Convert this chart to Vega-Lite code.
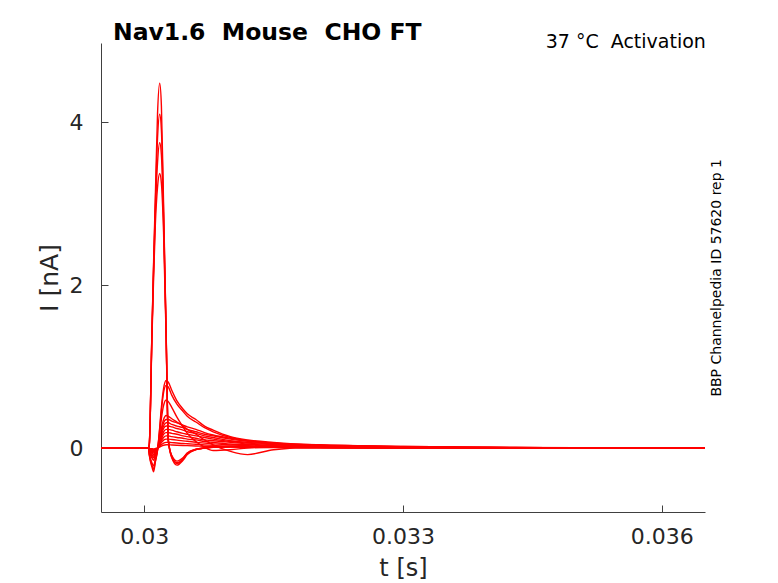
{
  "$schema": "https://vega.github.io/schema/vega-lite/v6.json",
  "width": 604,
  "height": 469,
  "autosize": {"type": "none"},
  "padding": {"left": 101, "top": 43, "right": 73, "bottom": 71},
  "background": "white",
  "config": {"font": "DejaVu Sans", "view": {"stroke": null}},
  "title": {
    "text": "Nav1.6\u00a0 Mouse\u00a0 CHO FT",
    "anchor": "start",
    "frame": "group",
    "dx": 12,
    "dy": 13,
    "offset": 2,
    "fontSize": 23.5,
    "fontWeight": "bold",
    "color": "#000000"
  },
  "data": {
    "values": [
      {"t": 0.0295, "a": 0, "b": 0, "c": 0, "d": 0, "m1": 0, "m2": 0, "m3": 0, "m4": 0, "m5": 0, "m6": 0, "m7": 0, "m8": 0, "m9": 0, "m10": 0, "m11": 0, "m12": 0, "m13": 0},
      {"t": 0.03, "a": 0, "b": 0, "c": 0, "d": 0, "m1": 0, "m2": 0, "m3": 0, "m4": 0, "m5": 0, "m6": 0, "m7": 0, "m8": 0, "m9": 0, "m10": 0, "m11": 0, "m12": 0, "m13": 0},
      {"t": 0.03005, "a": 0, "b": 0, "c": 0, "d": 0, "m1": 0, "m2": 0, "m3": 0, "m4": 0, "m5": 0, "m6": 0, "m7": 0, "m8": 0, "m9": 0, "m10": 0, "m11": 0, "m12": 0, "m13": 0},
      {"t": 0.03006, "a": 0.05, "b": 0.05, "c": 0.05, "d": 0.04, "m1": -0.09, "m2": -0.08, "m3": -0.07, "m4": -0.05, "m5": -0.04, "m6": -0.03, "m7": -0.02, "m8": -0.02, "m9": -0.015, "m10": -0.012, "m11": -0.01, "m12": -0.006, "m13": -0.003},
      {"t": 0.03009, "a": 1.41, "b": 1.41, "c": 1.38, "d": 1.33, "m1": -0.23, "m2": -0.21, "m3": -0.18, "m4": -0.12, "m5": -0.1, "m6": -0.08, "m7": -0.06, "m8": -0.05, "m9": -0.04, "m10": -0.03, "m11": -0.024, "m12": -0.016, "m13": -0.008},
      {"t": 0.03011, "a": 2.3, "b": 2.25, "c": 2.2, "d": 2.1, "m1": -0.29, "m2": -0.26, "m3": -0.22, "m4": -0.15, "m5": -0.12, "m6": -0.1, "m7": -0.08, "m8": -0.06, "m9": -0.05, "m10": -0.04, "m11": -0.03, "m12": -0.02, "m13": -0.01},
      {"t": 0.03013, "a": 3.1, "b": 3.0, "c": 2.9, "d": 2.75, "m1": -0.17, "m2": -0.16, "m3": -0.13, "m4": -0.09, "m5": -0.07, "m6": -0.06, "m7": -0.05, "m8": -0.04, "m9": -0.03, "m10": -0.024, "m11": -0.018, "m12": -0.012, "m13": -0.006},
      {"t": 0.030155, "a": 4.1, "b": 3.8, "c": 3.5, "d": 3.2, "m1": -0.03, "m2": -0.03, "m3": -0.02, "m4": -0.01, "m5": -0.01, "m6": -0.01, "m7": -0.01, "m8": 0, "m9": 0, "m10": 0, "m11": 0, "m12": 0, "m13": 0},
      {"t": 0.03018, "a": 4.48, "b": 4.1, "c": 3.75, "d": 3.37, "m1": 0.25, "m2": 0.23, "m3": 0.18, "m4": 0.12, "m5": 0.1, "m6": 0.09, "m7": 0.08, "m8": 0.07, "m9": 0.06, "m10": 0.045, "m11": 0.033, "m12": 0.021, "m13": 0.012},
      {"t": 0.0302, "a": 4.2, "b": 3.9, "c": 3.6, "d": 3.25, "m1": 0.5, "m2": 0.46, "m3": 0.36, "m4": 0.24, "m5": 0.21, "m6": 0.19, "m7": 0.16, "m8": 0.14, "m9": 0.11, "m10": 0.09, "m11": 0.066, "m12": 0.042, "m13": 0.024},
      {"t": 0.030225, "a": 3.0, "b": 2.9, "c": 2.8, "d": 2.65, "m1": 0.73, "m2": 0.68, "m3": 0.52, "m4": 0.35, "m5": 0.31, "m6": 0.27, "m7": 0.24, "m8": 0.2, "m9": 0.17, "m10": 0.13, "m11": 0.097, "m12": 0.062, "m13": 0.035},
      {"t": 0.030255, "a": 1.41, "b": 1.41, "c": 1.38, "d": 1.33, "m1": 0.83, "m2": 0.77, "m3": 0.59, "m4": 0.4, "m5": 0.35, "m6": 0.31, "m7": 0.27, "m8": 0.23, "m9": 0.19, "m10": 0.15, "m11": 0.11, "m12": 0.07, "m13": 0.04},
      {"t": 0.03028, "a": 0.1, "b": 0.1, "c": 0.1, "d": 0.08, "m1": 0.81, "m2": 0.75, "m3": 0.57, "m4": 0.39, "m5": 0.35, "m6": 0.31, "m7": 0.27, "m8": 0.23, "m9": 0.19, "m10": 0.15, "m11": 0.11, "m12": 0.07, "m13": 0.04},
      {"t": 0.03032, "a": -0.12, "b": -0.11, "c": -0.1, "d": -0.09, "m1": 0.71, "m2": 0.65, "m3": 0.5, "m4": 0.36, "m5": 0.33, "m6": 0.29, "m7": 0.26, "m8": 0.22, "m9": 0.18, "m10": 0.14, "m11": 0.105, "m12": 0.067, "m13": 0.038},
      {"t": 0.03038, "a": -0.21, "b": -0.19, "c": -0.18, "d": -0.16, "m1": 0.58, "m2": 0.54, "m3": 0.38, "m4": 0.32, "m5": 0.31, "m6": 0.27, "m7": 0.24, "m8": 0.2, "m9": 0.17, "m10": 0.13, "m11": 0.097, "m12": 0.062, "m13": 0.035},
      {"t": 0.03045, "a": -0.15, "b": -0.14, "c": -0.13, "d": -0.12, "m1": 0.48, "m2": 0.45, "m3": 0.26, "m4": 0.27, "m5": 0.28, "m6": 0.25, "m7": 0.22, "m8": 0.18, "m9": 0.15, "m10": 0.12, "m11": 0.088, "m12": 0.056, "m13": 0.032},
      {"t": 0.0305, "a": -0.08, "b": -0.07, "c": -0.06, "d": -0.06, "m1": 0.42, "m2": 0.39, "m3": 0.18, "m4": 0.23, "m5": 0.26, "m6": 0.23, "m7": 0.2, "m8": 0.17, "m9": 0.14, "m10": 0.11, "m11": 0.083, "m12": 0.053, "m13": 0.03},
      {"t": 0.0306, "a": -0.02, "b": -0.02, "c": -0.015, "d": -0.015, "m1": 0.35, "m2": 0.32, "m3": 0.08, "m4": 0.17, "m5": 0.23, "m6": 0.2, "m7": 0.18, "m8": 0.15, "m9": 0.12, "m10": 0.1, "m11": 0.072, "m12": 0.046, "m13": 0.026},
      {"t": 0.0307, "a": 0, "b": 0, "c": 0, "d": 0, "m1": 0.27, "m2": 0.25, "m3": 0.01, "m4": 0.1, "m5": 0.19, "m6": 0.17, "m7": 0.15, "m8": 0.13, "m9": 0.1, "m10": 0.08, "m11": 0.06, "m12": 0.039, "m13": 0.022},
      {"t": 0.0308, "a": 0.01, "b": 0.01, "c": 0.01, "d": 0.01, "m1": 0.22, "m2": 0.2, "m3": -0.03, "m4": 0.04, "m5": 0.16, "m6": 0.15, "m7": 0.13, "m8": 0.11, "m9": 0.09, "m10": 0.07, "m11": 0.052, "m12": 0.033, "m13": 0.019},
      {"t": 0.031, "a": 0.02, "b": 0.02, "c": 0.015, "d": 0.015, "m1": 0.14, "m2": 0.13, "m3": -0.02, "m4": -0.04, "m5": 0.12, "m6": 0.11, "m7": 0.09, "m8": 0.08, "m9": 0.07, "m10": 0.05, "m11": 0.039, "m12": 0.025, "m13": 0.014},
      {"t": 0.0312, "a": 0.02, "b": 0.015, "c": 0.015, "d": 0.01, "m1": 0.1, "m2": 0.09, "m3": 0, "m4": -0.08, "m5": 0.09, "m6": 0.084, "m7": 0.07, "m8": 0.06, "m9": 0.05, "m10": 0.04, "m11": 0.03, "m12": 0.019, "m13": 0.011},
      {"t": 0.0315, "a": 0.01, "b": 0.01, "c": 0.01, "d": 0.01, "m1": 0.07, "m2": 0.06, "m3": 0.01, "m4": -0.02, "m5": 0.06, "m6": 0.056, "m7": 0.05, "m8": 0.04, "m9": 0.03, "m10": 0.03, "m11": 0.02, "m12": 0.013, "m13": 0.007},
      {"t": 0.032, "a": 0.01, "b": 0.005, "c": 0.005, "d": 0.005, "m1": 0.04, "m2": 0.04, "m3": 0.01, "m4": 0.01, "m5": 0.035, "m6": 0.031, "m7": 0.027, "m8": 0.023, "m9": 0.019, "m10": 0.015, "m11": 0.011, "m12": 0.007, "m13": 0.004},
      {"t": 0.033, "a": 0, "b": 0, "c": 0, "d": 0, "m1": 0.02, "m2": 0.02, "m3": 0, "m4": 0, "m5": 0.014, "m6": 0.012, "m7": 0.011, "m8": 0.009, "m9": 0.008, "m10": 0.006, "m11": 0.004, "m12": 0.003, "m13": 0.002},
      {"t": 0.034, "a": 0, "b": 0, "c": 0, "d": 0, "m1": 0.01, "m2": 0.01, "m3": 0, "m4": 0, "m5": 0.007, "m6": 0.006, "m7": 0.005, "m8": 0.005, "m9": 0.004, "m10": 0.003, "m11": 0.002, "m12": 0.001, "m13": 0.001},
      {"t": 0.035, "a": 0, "b": 0, "c": 0, "d": 0, "m1": 0, "m2": 0, "m3": 0, "m4": 0, "m5": 0.003, "m6": 0.003, "m7": 0.003, "m8": 0.002, "m9": 0.002, "m10": 0.001, "m11": 0.001, "m12": 0, "m13": 0},
      {"t": 0.0365, "a": 0, "b": 0, "c": 0, "d": 0, "m1": 0, "m2": 0, "m3": 0, "m4": 0, "m5": 0, "m6": 0, "m7": 0, "m8": 0, "m9": 0, "m10": 0, "m11": 0, "m12": 0, "m13": 0}
    ]
  },
  "layer": [
    {
      "transform": [
        {"fold": ["a", "b", "c", "d", "m1", "m2", "m3", "m4", "m5", "m6", "m7", "m8", "m9", "m10", "m11", "m12", "m13"], "as": ["trace", "I"]}
      ],
      "mark": {"type": "line", "color": "#ff0000", "strokeWidth": 1.4, "interpolate": "monotone", "clip": true},
      "encoding": {
        "x": {
          "field": "t",
          "type": "quantitative",
          "scale": {"domain": [0.0295, 0.0365], "nice": false, "zero": false},
          "axis": {
            "values": [0.03, 0.033, 0.036],
            "format": "~g",
            "title": "t [s]",
            "grid": false,
            "tickSize": -7,
            "labelPadding": 21,
            "labelFontSize": 22,
            "labelColor": "#262626",
            "labelFlush": false,
            "titleFontSize": 24,
            "titleFontWeight": "normal",
            "titleColor": "#262626",
            "titlePadding": 9,
            "domainColor": "#404040",
            "tickColor": "#404040"
          }
        },
        "y": {
          "field": "I",
          "type": "quantitative",
          "scale": {"domain": [-0.785, 4.973], "nice": false, "zero": false},
          "axis": {
            "values": [0, 2, 4],
            "format": "~g",
            "title": "I [nA]",
            "grid": false,
            "tickSize": -7,
            "labelPadding": 25,
            "labelFontSize": 22,
            "labelColor": "#262626",
            "labelFlush": false,
            "titleFontSize": 25,
            "titleFontWeight": "normal",
            "titleColor": "#262626",
            "titlePadding": 7,
            "domainColor": "#404040",
            "tickColor": "#404040"
          }
        },
        "detail": {"field": "trace", "type": "nominal"}
      }
    },
    {
      "data": {"values": [{"label": "37 °C\u00a0 Activation"}]},
      "mark": {"type": "text", "align": "right", "baseline": "alphabetic", "fontSize": 19, "color": "#000000"},
      "encoding": {
        "x": {"datum": 0.03651, "type": "quantitative"},
        "y": {"datum": 4.91, "type": "quantitative"},
        "text": {"field": "label"}
      }
    },
    {
      "data": {"values": [{"label": "BBP Channelpedia ID 57620 rep 1"}]},
      "mark": {"type": "text", "align": "center", "baseline": "middle", "angle": 270, "fontSize": 14, "color": "#000000"},
      "encoding": {
        "x": {"datum": 0.03664, "type": "quantitative"},
        "y": {"datum": 2.09, "type": "quantitative"},
        "text": {"field": "label"}
      }
    }
  ]
}
